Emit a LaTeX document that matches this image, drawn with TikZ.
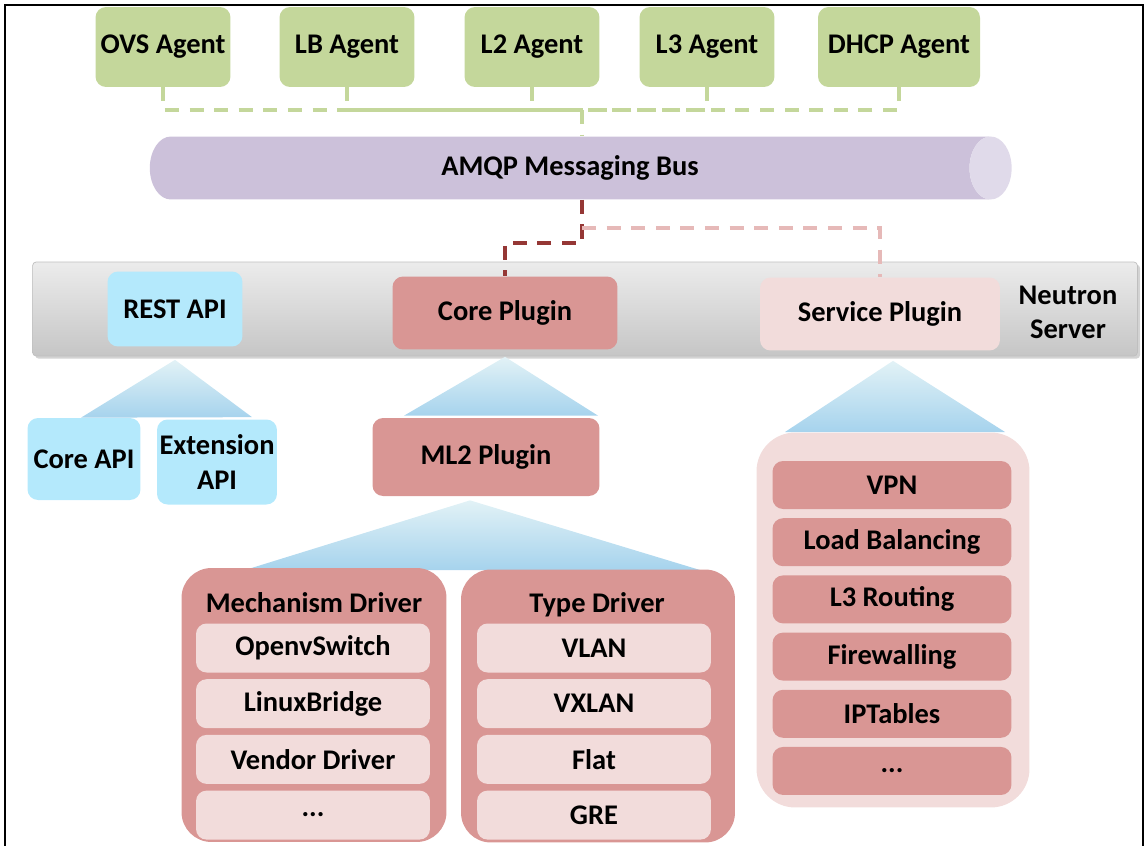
\documentclass[tikz,border=0pt]{standalone}
\usepackage{fontspec}
\setmainfont{Carlito}
\usetikzlibrary{positioning}
\usetikzlibrary{calc}
\usetikzlibrary{shapes.geometric}
\usetikzlibrary{shadows}

\definecolor{agentgreen}{RGB}{196,215,155}
\definecolor{busbody}{RGB}{204,193,218}
\definecolor{busend}{RGB}{224,218,234}
\definecolor{restblue}{RGB}{180,233,252}
\definecolor{corered}{RGB}{217,150,148}
\definecolor{svcpink}{RGB}{242,220,219}
\definecolor{corelinkred}{RGB}{149,55,53}
\definecolor{svclinkpink}{RGB}{230,185,184}
\definecolor{fantop}{RGB}{226,242,246}
\definecolor{fanbot}{RGB}{166,211,237}

\begin{document}
\begin{tikzpicture}
            [
                x=0.02cm, y=-0.02cm,
                every node/.style={font=\bfseries\fontsize{16.2}{19.5}\selectfont},
                box/.style={rectangle, rounded corners=6pt, inner sep=0pt, align=center},
                agent/.style={box, fill=agentgreen, minimum width=2.7cm, minimum height=1.6cm},
                bus/.style={cylinder, shape border rotate=0, aspect=1.7, cylinder uses custom fill, cylinder body fill=busbody, cylinder end fill=busend, minimum height=17.24cm, minimum width=1.26cm, inner sep=0pt},
                server/.style={rectangle, rounded corners=2pt, top color=gray!15, bottom color=gray!45, draw=gray!50, minimum width=22.1cm, minimum height=1.88cm, drop shadow={opacity=0.35, shadow xshift=1.5pt, shadow yshift=-1.5pt}},
                plugin/.style={box, minimum height=1.46cm},
                group/.style={rectangle, rounded corners=17pt, inner sep=0pt},
                drvitem/.style={box, fill=svcpink, minimum width=4.68cm, minimum height=0.98cm},
                svcitem/.style={box, fill=corered, minimum width=4.78cm, minimum height=0.96cm},
                fan/.style={top color=fantop, bottom color=fanbot},
                agentlink/.style={draw=agentgreen, line width=2.2pt, dash pattern=on 8pt off 6pt},
                corelink/.style={draw=corelinkred, line width=2.2pt, dash pattern=on 8pt off 6pt},
                svclink/.style={draw=svclinkpink, line width=2.2pt, dash pattern=on 8pt off 6pt}
            ]
            \useasboundingbox (0,0) rectangle (1145,845);
            %agents
            \node[agent] at (163,47)                        (ovs)       {OVS Agent};
            \node[agent] at (347,47)                        (lb)        {LB Agent};
            \node[agent] at (532,47)                        (ltwo)      {L2 Agent};
            \node[agent] at (707,47)                        (lthree)    {L3 Agent};
            \node[agent, minimum width=3.24cm] at (899,47)  (dhcp)      {DHCP Agent};
            %bus
            \node[bus] at (570,168)                         (bus)       {AMQP Messaging Bus};
            \coordinate (hub) at (582,110);
            \coordinate (tap) at (hub |- bus.south);
            \draw[agentlink] (ovs.south) |- (hub);
            \draw[agentlink] (lb.south) |- (hub);
            \draw[agentlink] (ltwo.south) |- (hub);
            \draw[agentlink] (lthree.south) |- (hub);
            \draw[agentlink] (dhcp.south) |- (hub);
            \draw[agentlink] (hub) -- (hub |- bus.north);
            %neutron server
            \node[server] at (585,309)                      (server)    {};
            \node[align=center] at (1068,312)               (serverlabel) {Neutron\\Server};
            \node[plugin, fill=restblue, minimum width=2.7cm, minimum height=1.5cm] at (175,309) (rest) {REST API};
            \node[plugin, fill=corered, minimum width=4.5cm] at (505,313)    (core)      {Core Plugin};
            \node[plugin, fill=svcpink, minimum width=4.8cm] at (880,314)    (svc)       {Service Plugin};
            %links to the bus
            \draw[corelink] (tap) -- ++(0,43) -| (core.north);
            \draw[svclink] (tap) ++(0,28) -| (svc.north);
            %children
            \node[box, fill=restblue, minimum width=2.26cm, minimum height=1.64cm] at (84,459)  (coreapi)  {Core API};
            \node[box, fill=restblue, minimum width=2.4cm, minimum height=1.7cm] at (217,462)   (extapi)   {Extension\\API};
            \node[box, fill=corered, minimum width=4.54cm, minimum height=1.56cm] at (486,457)  (ml2)      {ML2 Plugin};
            %fans
            \shade[fan] ($(rest.south)+(0,13)$) -- ($(coreapi.north)+(-3,0)$) -- ($(extapi.north)+(35,-2)$) -- cycle;
            \shade[fan] ($(core.south)+(0,7)$) -- ($(ml2.north)+(-82,-2)$) -- ($(ml2.north)+(112,-2)$) -- cycle;
            \shade[fan] ($(svc.south)+(13,10)$) -- (785,432) -- (1005,432) -- cycle;
            \shade[fan] ($(ml2.south)+(-16,4)$) -- (245,570) -- (700,570) -- cycle;
            %mechanism driver
            \node[group, fill=corered, minimum width=5.3cm, minimum height=5.48cm] at (314,705) (mech) {};
            \node at (314,603)                              (mechtitle) {Mechanism Driver};
            \node[drvitem] at (313,648)                     (ovsdrv)    {OpenvSwitch};
            \node[drvitem, below=0.12cm of ovsdrv]          (lbdrv)     {LinuxBridge};
            \node[drvitem, below=0.12cm of lbdrv]           (vendordrv) {Vendor Driver};
            \node[drvitem, below=0.12cm of vendordrv]       (moredrv)   {...};
            %type driver
            \node[group, fill=corered, minimum width=5.48cm, minimum height=5.46cm] at (598,706) (typedrv) {};
            \node at (597,605)                              (typetitle) {Type Driver};
            \node[drvitem] at (594,648)                     (vlan)      {VLAN};
            \node[drvitem, below=0.12cm of vlan]            (vxlan)     {VXLAN};
            \node[drvitem, below=0.12cm of vxlan]           (flat)      {Flat};
            \node[drvitem, below=0.12cm of flat]            (gre)       {GRE};
            %service plugins
            \node[group, rounded corners=22pt, fill=svcpink, minimum width=5.46cm, minimum height=7.5cm] at (893,620) (svcgroup) {};
            \node[svcitem] at (892,485)                     (vpn)       {VPN};
            \node[svcitem, below=0.17cm of vpn]             (lbaas)     {Load Balancing};
            \node[svcitem, below=0.17cm of lbaas]           (routing)   {L3 Routing};
            \node[svcitem, below=0.17cm of routing]         (firewall)  {Firewalling};
            \node[svcitem, below=0.17cm of firewall]        (iptables)  {IPTables};
            \node[svcitem, below=0.17cm of iptables]        (moresvc)   {...};
            %frame
            \draw[line width=1.6pt] (5,850) -- (5,5) -- (1143,5) -- (1143,850);
        \end{tikzpicture}
\end{document}
